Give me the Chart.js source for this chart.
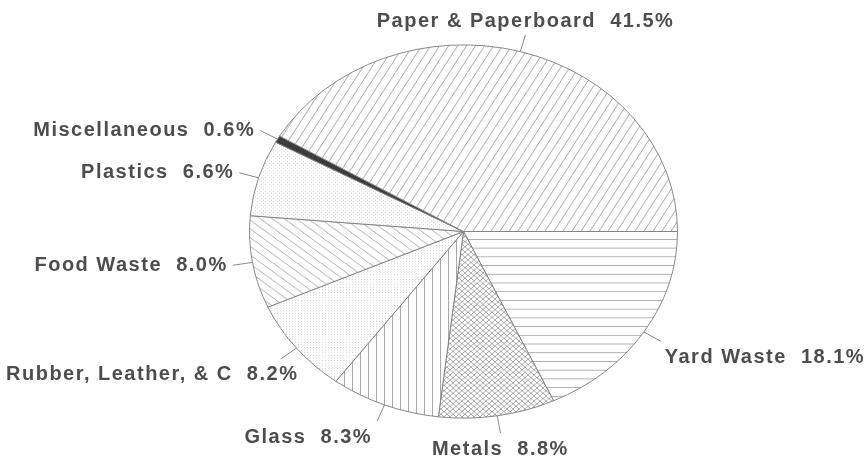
<!DOCTYPE html>
<html lang="en">
<head>
    <meta charset="UTF-8">
    <title>Waste Composition</title>
    <script src="https://cdn.jsdelivr.net/npm/chart.js@4.4.1/dist/chart.umd.js"></script>
    <style>
        html, body { margin: 0; padding: 0; background: #fff; }
        .chart-container { width: 867px; height: 460px; }
    </style>
</head>
<body>
    <div class="chart-container">
        <canvas id="wasteChart" width="867" height="460"></canvas>
    </div>

    <script>
        // clockwise from 3 o'clock
        const categories = ['Yard Waste', 'Metals', 'Glass', 'Rubber, Leather, & C',
                            'Food Waste', 'Plastics', 'Miscellaneous', 'Paper & Paperboard'];
        const shares = [18.1, 8.8, 8.3, 8.2, 8.0, 6.6, 0.6, 41.5];

        const ySquash = 0.872;   // the pie is drawn as an ellipse
        const hatch = '#a8a8a8';

        function tile(w, h, draw) {
            const c = document.createElement('canvas');
            c.width = w; c.height = h;
            const g = c.getContext('2d');
            g.fillStyle = '#fff';
            g.fillRect(0, 0, w, h);
            g.strokeStyle = hatch;
            g.fillStyle = hatch;
            g.lineWidth = 1;
            draw(g, w, h);
            return g.createPattern(c, 'repeat');
        }

        function lines(g, segs) {
            g.beginPath();
            segs.forEach(s => { g.moveTo(s[0], s[1]); g.lineTo(s[2], s[3]); });
            g.stroke();
        }

        const patterns = {
            yard: tile(10, 10, (g, w, h) => lines(g, [[0, 0.5, w, 0.5]])),
            metals: tile(6, 6, (g, w, h) => lines(g, [[0, 0, w, h], [-w, 0, w, 2 * h], [0, -h, 2 * w, h],
                                                       [w, 0, 0, h], [2 * w, 0, 0, 2 * h], [w, -h, -w, h]])),
            glass: tile(8, 8, (g, w, h) => lines(g, [[0.5, 0, 0.5, h]])),
            rubber: tile(3, 3, (g) => { g.fillStyle = '#d2d2d2'; g.fillRect(1, 1, 1, 1); }),
            food: tile(12, 10, (g, w, h) => lines(g, [[0, 0, w, h], [-w, 0, 0, h], [w, 0, 2 * w, h], [0, -h, w, 0], [0, h, w, 2 * h]])),
            plastics: tile(4, 4, (g) => { g.fillStyle = '#d6d6d6'; g.fillRect(1, 1, 1, 1); g.fillRect(3, 3, 1, 1); }),
            paper: tile(9, 16, (g, w, h) => lines(g, [[0, h, w, 0], [-w, h, 0, 0], [w, h, 2 * w, 0]]))
        };
        const fills = [patterns.yard, patterns.metals, patterns.glass, patterns.rubber,
                       patterns.food, patterns.plastics, '#3c3c3c', patterns.paper];

        const ellipsePlugin = {
            id: 'ellipse',
            beforeDatasetsDraw(chart) {
                const arc = chart.getDatasetMeta(0).data[0];
                const ctx = chart.ctx;
                ctx.save();
                ctx.translate(arc.x, arc.y);
                ctx.scale(1, ySquash);
                ctx.translate(-arc.x, -arc.y);
            },
            afterDatasetsDraw(chart) {
                chart.ctx.restore();
            }
        };

        const labelPlugin = {
            id: 'leaderLabels',
            afterDraw(chart) {
                const ctx = chart.ctx;
                const meta = chart.getDatasetMeta(0);
                ctx.save();
                ctx.font = 'bold 20px "Liberation Sans", Arial, sans-serif';
                ctx.letterSpacing = '1.5px';
                ctx.fillStyle = '#4d4d4d';
                ctx.strokeStyle = '#8a8a8a';
                ctx.lineWidth = 1;
                meta.data.forEach((arc, i) => {
                    const mid = (arc.startAngle + arc.endAngle) / 2;
                    const c = Math.cos(mid), s = Math.sin(mid);
                    const r = arc.outerRadius;
                    const x0 = arc.x + c * r, y0 = arc.y + s * r * ySquash;
                    const x1 = arc.x + c * (r + 20), y1 = arc.y + s * (r + 20) * ySquash;
                    ctx.beginPath();
                    ctx.moveTo(x0, y0);
                    ctx.lineTo(x1, y1);
                    ctx.stroke();

                    const text = categories[i] + '  ' + shares[i].toFixed(1) + '%';
                    const w = ctx.measureText(text).width;
                    let tx, ty;
                    if (c > 0.3) tx = x1 + 4;
                    else if (c < -0.3) tx = x1 - 5 - w;
                    else tx = x1 - w / 2;
                    if (tx < 6) tx = 6;
                    if (s < -0.9) { ctx.textBaseline = 'bottom'; ty = y1 - 3; }
                    else if (s > 0.9) { ctx.textBaseline = 'top'; ty = y1 + 6; }
                    else { ctx.textBaseline = 'middle'; ty = y1 + (s > 0.4 ? 16 : 0); }
                    ctx.textAlign = 'left';
                    ctx.fillText(text, tx, ty);
                });
                ctx.restore();
            }
        };

        new Chart(document.getElementById('wasteChart'), {
            type: 'pie',
            data: {
                labels: categories,
                datasets: [{
                    data: shares,
                    backgroundColor: fills,
                    borderColor: '#808080',
                    borderWidth: 1
                }]
            },
            options: {
                responsive: false,
                animation: false,
                events: [],
                rotation: 90,
                layout: { padding: { left: 249, right: 189, top: 17, bottom: 14 } },
                plugins: {
                    legend: { display: false },
                    tooltip: { enabled: false }
                }
            },
            plugins: [ellipsePlugin, labelPlugin]
        });
    </script>
</body>
</html>
